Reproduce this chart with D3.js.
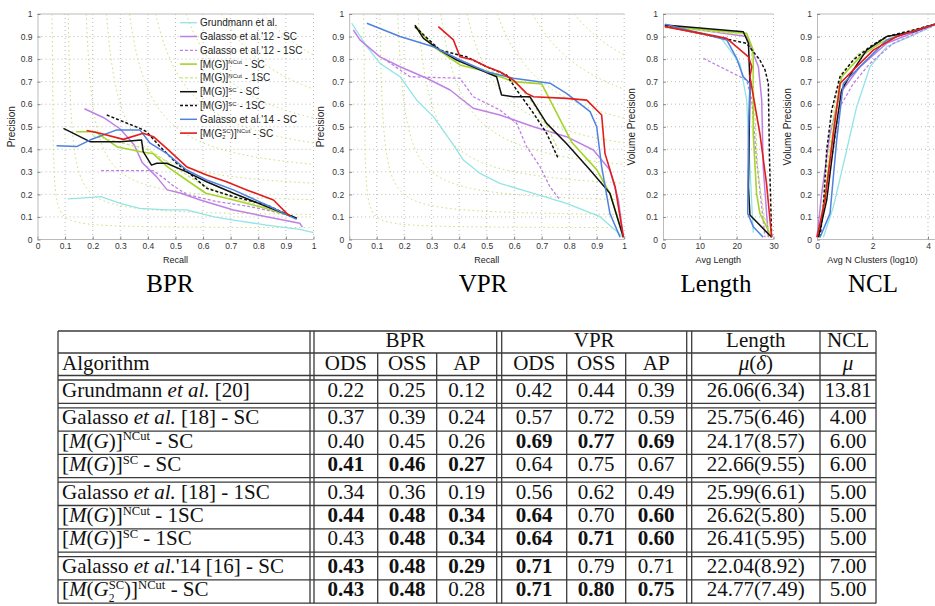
<!DOCTYPE html>
<html>
<head>
<meta charset="utf-8">
<script src="https://cdn.jsdelivr.net/npm/d3@7"></script>
<style>
body { margin: 0; background: #fff; }
text { white-space: pre; }
.tick text { font: 8.5px "Liberation Sans", Arial, sans-serif; fill: #333; }
</style>
</head>
<body>
<svg id="fig" width="935" height="606"></svg>
<script>
// ---- curve data: [x, y] per point, order as in the legend ----
var seriesLabels = [
  [["Grundmann et al."]],
  [["Galasso et al.'12 - SC"]],
  [["Galasso et al.'12 - 1SC"]],
  [["[M(G)]"], ["NCut", "sup"], [" - SC"]],
  [["[M(G)]"], ["NCut", "sup"], [" - 1SC"]],
  [["[M(G)]"], ["SC", "sup"], [" - SC"]],
  [["[M(G)]"], ["SC", "sup"], [" - 1SC"]],
  [["Galasso et al.'14 - SC"]],
  [["[M(G"], ["2", "sub"], ["SC", "supback"], [")]"], ["NCut", "sup"], [" - SC"]]
];

var bprCurves = [
  [[0.11,0.18],[0.17,0.185],[0.23,0.19],[0.30,0.16],[0.37,0.138],[0.47,0.131],[0.54,0.131],[0.64,0.10],[0.71,0.086],[0.83,0.064],[0.95,0.045],[1.0,0.03]],
  [[0.17,0.58],[0.24,0.54],[0.30,0.49],[0.35,0.42],[0.38,0.34],[0.43,0.28],[0.47,0.22],[0.52,0.205],[0.59,0.175],[0.71,0.131],[0.83,0.101],[0.95,0.072],[0.96,0.055]],
  [[0.23,0.305],[0.42,0.305],[0.46,0.27],[0.49,0.24],[0.54,0.20],[0.65,0.168],[0.77,0.146],[0.85,0.125],[0.93,0.10]],
  [[0.14,0.478],[0.21,0.478],[0.29,0.41],[0.37,0.39],[0.42,0.38],[0.47,0.323],[0.54,0.264],[0.61,0.205],[0.71,0.175],[0.83,0.138],[0.93,0.10]],
  [[0.20,0.46],[0.30,0.43],[0.40,0.40],[0.45,0.36],[0.50,0.32],[0.56,0.27],[0.62,0.23],[0.71,0.185],[0.82,0.145],[0.92,0.105]],
  [[0.094,0.493],[0.19,0.434],[0.30,0.434],[0.377,0.441],[0.383,0.39],[0.413,0.33],[0.432,0.338],[0.468,0.338],[0.54,0.30],[0.613,0.256],[0.71,0.205],[0.83,0.146],[0.94,0.094]],
  [[0.251,0.552],[0.371,0.493],[0.395,0.478],[0.444,0.412],[0.504,0.338],[0.565,0.279],[0.613,0.227],[0.71,0.19],[0.83,0.153],[0.927,0.10]],
  [[0.069,0.416],[0.142,0.412],[0.19,0.441],[0.287,0.486],[0.371,0.486],[0.408,0.427],[0.468,0.382],[0.54,0.308],[0.613,0.264],[0.71,0.22],[0.83,0.153],[0.939,0.089]],
  [[0.178,0.483],[0.226,0.471],[0.311,0.444],[0.383,0.471],[0.42,0.456],[0.468,0.404],[0.54,0.323],[0.613,0.286],[0.685,0.256],[0.758,0.22],[0.855,0.175],[0.903,0.116],[0.915,0.104]]
];

var vprCurves = [
  [[0.009,0.959],[0.064,0.855],[0.112,0.781],[0.185,0.722],[0.245,0.619],[0.306,0.545],[0.367,0.441],[0.415,0.353],[0.476,0.293],[0.548,0.249],[0.67,0.205],[0.79,0.16],[0.912,0.101],[0.997,0.01]],
  [[0.015,0.929],[0.039,0.885],[0.112,0.81],[0.185,0.766],[0.282,0.715],[0.367,0.663],[0.451,0.582],[0.548,0.552],[0.67,0.50],[0.79,0.456],[0.888,0.397],[0.948,0.308],[0.979,0.175],[0.997,0.01]],
  [[0.124,0.803],[0.221,0.722],[0.403,0.715],[0.451,0.633],[0.548,0.574],[0.609,0.515],[0.645,0.412],[0.694,0.323],[0.73,0.234],[0.767,0.175]],
  [[0.239,0.95],[0.306,0.855],[0.403,0.774],[0.5,0.744],[0.597,0.70],[0.70,0.69],[0.81,0.43],[0.9,0.31],[0.95,0.2],[0.997,0.01]],
  [[0.24,0.94],[0.30,0.86],[0.40,0.785],[0.50,0.75],[0.58,0.72],[0.62,0.68],[0.67,0.60],[0.72,0.50],[0.76,0.40]],
  [[0.239,0.951],[0.27,0.892],[0.33,0.84],[0.391,0.796],[0.476,0.752],[0.536,0.722],[0.554,0.641],[0.597,0.633],[0.657,0.633],[0.718,0.515],[0.79,0.426],[0.876,0.308],[0.948,0.205],[0.997,0.01]],
  [[0.239,0.944],[0.33,0.84],[0.427,0.81],[0.5,0.766],[0.573,0.729],[0.609,0.663],[0.67,0.56],[0.718,0.471],[0.76,0.36]],
  [[0.064,0.959],[0.185,0.9],[0.306,0.855],[0.403,0.796],[0.5,0.744],[0.597,0.715],[0.73,0.693],[0.79,0.648],[0.876,0.567],[0.9,0.5],[0.918,0.323],[0.948,0.116],[0.985,0.01]],
  [[0.324,0.944],[0.379,0.885],[0.403,0.81],[0.451,0.796],[0.5,0.766],[0.548,0.744],[0.597,0.707],[0.645,0.648],[0.67,0.633],[0.79,0.626],[0.864,0.618],[0.918,0.552],[0.93,0.382],[0.967,0.234],[0.997,0.01]]
];

var lengthCurves = [
  [[0.5,0.951],[15.5,0.9],[20.9,0.78],[22.7,0.62],[23.6,0.32],[24.5,0.03]],
  [[0.5,0.951],[22.7,0.9],[25.9,0.766],[26.8,0.619],[27.2,0.323],[28.6,0.01]],
  [[11.0,0.803],[15.5,0.766],[22.7,0.707],[24.1,0.619],[25.4,0.353],[27.7,0.01]],
  [[0.5,0.944],[22.7,0.914],[24.5,0.84],[24.5,0.47],[25.4,0.205],[26.3,0.116],[29.5,0.01]],
  [[0.5,0.94],[22.0,0.91],[24.0,0.84],[24.8,0.6],[25.8,0.3],[27.5,0.1],[29.5,0.01]],
  [[0.5,0.951],[21.8,0.921],[23.2,0.87],[23.6,0.692],[23.2,0.234],[23.6,0.109],[29.5,0.01]],
  [[0.5,0.947],[22.7,0.87],[26.3,0.796],[27.7,0.752],[28.6,0.692],[28.9,0.367],[29.5,0.01]],
  [[0.5,0.955],[17.3,0.885],[20.0,0.803],[21.8,0.722],[23.6,0.692],[23.2,0.47],[23.0,0.116],[24.5,0.057],[27.2,0.01]],
  [[0.5,0.944],[17.3,0.892],[23.2,0.81],[24.1,0.766],[23.6,0.722],[26.3,0.47],[28.1,0.249],[29.5,0.01]]
];

var nclCurves = [
  [[0.23,0.01],[0.59,0.145],[1.07,0.397],[1.43,0.589],[1.91,0.766],[2.51,0.855],[3.35,0.9],[4.25,0.951]],
  [[0,0.01],[0.17,0.205],[0.47,0.47],[0.83,0.648],[1.55,0.766],[2.51,0.87],[4.25,0.955]],
  [[0.05,0.01],[0.3,0.2],[0.59,0.397],[0.83,0.589],[1.31,0.692],[1.91,0.781],[2.75,0.87],[4.25,0.951]],
  [[0.05,0.01],[0.35,0.249],[0.65,0.545],[0.89,0.722],[1.55,0.81],[2.27,0.87],[3.11,0.914],[4.25,0.955]],
  [[0.05,0.01],[0.32,0.27],[0.6,0.56],[0.85,0.73],[1.45,0.82],[2.2,0.875],[3.1,0.915],[4.25,0.955]],
  [[0.05,0.01],[0.35,0.175],[0.65,0.47],[0.89,0.663],[1.31,0.752],[1.79,0.84],[2.51,0.9],[3.47,0.921],[4.25,0.955]],
  [[0.11,0.01],[0.23,0.145],[0.35,0.397],[0.53,0.574],[0.83,0.722],[1.31,0.796],[1.91,0.855],[2.51,0.9],[3.47,0.929],[4.25,0.955]],
  [[0.11,0.01],[0.47,0.116],[0.71,0.441],[0.95,0.692],[1.67,0.781],[2.51,0.885],[4.25,0.955]],
  [[0,0.01],[0.29,0.175],[0.59,0.47],[0.83,0.692],[1.31,0.752],[2.03,0.84],[2.87,0.9],[4.25,0.955]]
];

// iso-F reference levels drawn in the two PR plots
var isoFLevels = [0.1, 0.2, 0.3, 0.4, 0.5, 0.6, 0.7, 0.8, 0.9];

var unitTicks = [0, 0.1, 0.2, 0.3, 0.4, 0.5, 0.6, 0.7, 0.8, 0.9, 1];
var lengthTicks = [0, 10, 20, 30];
var nclTicks = [0, 2, 4];

// ---- table data ----
var algorithms = [
  [["Grundmann "], ["et al.", "i"], [" [20]"]],
  [["Galasso "], ["et al.", "i"], [" [18] - SC"]],
  [["["], ["M", "i"], ["("], ["G", "i"], [")]"], ["NCut", "sup"], [" - SC"]],
  [["["], ["M", "i"], ["("], ["G", "i"], [")]"], ["SC", "sup"], [" - SC"]],
  [["Galasso "], ["et al.", "i"], [" [18] - 1SC"]],
  [["["], ["M", "i"], ["("], ["G", "i"], [")]"], ["NCut", "sup"], [" - 1SC"]],
  [["["], ["M", "i"], ["("], ["G", "i"], [")]"], ["SC", "sup"], [" - 1SC"]],
  [["Galasso "], ["et al.", "i"], ["'14 [16] - SC"]],
  [["["], ["M", "i"], ["("], ["G", "i"], ["2", "sub"], ["SC", "supback"], [")]"], ["NCut", "sup"], [" - SC"]]
];
var rowGroups = [1, 3, 3, 2];
var topHeaders = ["BPR", "VPR", "Length", "NCL"];
var subHeaders = [[["ODS"]], [["OSS"]], [["AP"]], [["ODS"]], [["OSS"]], [["AP"]],
  [["μ", "i"], ["("], ["δ", "i"], [")"]], [["μ", "i"]]];
var bprScores = [[0.22,0.25,0.12],[0.37,0.39,0.24],[0.40,0.45,0.26],[0.41,0.46,0.27],[0.34,0.36,0.19],[0.44,0.48,0.34],[0.43,0.48,0.34],[0.43,0.48,0.29],[0.43,0.48,0.28]];
var vprScores = [[0.42,0.44,0.39],[0.57,0.72,0.59],[0.69,0.77,0.69],[0.64,0.75,0.67],[0.56,0.62,0.49],[0.64,0.70,0.60],[0.64,0.71,0.60],[0.71,0.79,0.71],[0.71,0.80,0.75]];
var lengthMean = [26.06, 25.75, 24.17, 22.66, 25.99, 26.62, 26.41, 22.04, 24.77];
var lengthStd = [6.34, 6.46, 8.57, 9.55, 6.61, 5.80, 5.95, 8.92, 7.49];
var nclMean = [13.81, 4.00, 6.00, 6.00, 5.00, 5.00, 5.00, 7.00, 5.00];
var boldScores = [
  [0,0,0,0,0,0],[0,0,0,0,0,0],[0,0,0,1,1,1],[1,1,1,0,0,0],[0,0,0,0,0,0],
  [1,1,1,1,0,1],[0,1,1,1,1,1],[1,1,1,1,0,0],[1,1,0,1,1,1]
];

// ---- styles ----
var curveStyles = [
  {color: "#93e4e6", dash: null, w: 1.3},
  {color: "#bf80e6", dash: null, w: 1.5},
  {color: "#bf80e6", dash: "3,2", w: 1.3},
  {color: "#a4d52a", dash: null, w: 1.6},
  {color: "#c9e57c", dash: "3,2", w: 1.3},
  {color: "#111", dash: null, w: 1.5},
  {color: "#111", dash: "3,2", w: 1.5},
  {color: "#4f82e0", dash: null, w: 1.5},
  {color: "#e31c1c", dash: null, w: 1.6}
];

var svg = d3.select("#fig");
var yTop = 14, yBottom = 239.5;
var y = d3.scaleLinear().domain([0, 1]).range([yBottom, yTop]);
var fmtUnit = function(d) { return d === 0 ? "0" : d === 1 ? "1" : d3.format(".1f")(d); };

// rich text: segments of [text, kind]
function rich(textSel, segs, size) {
  var shift = 0, prev = null;
  segs.forEach(function(s) {
    var kind = s[1] || "", target = 0, fs = size;
    if (kind === "sup" || kind === "supback") { target = -size * 0.35; fs = size * 0.6; }
    if (kind === "sub") { target = size * 0.28; fs = size * 0.55; }
    var ts = textSel.append("tspan").attr("dy", target - shift).style("font-size", fs + "px").text(s[0]);
    if (kind === "i") ts.style("font-style", "italic");
    if (kind === "supback" && prev) ts.attr("dx", -prev.getComputedTextLength());
    shift = target; prev = ts.node();
  });
}

var panels = [
  {curves: bprCurves, domain: [0, 1], range: [37.5, 313.5], ticks: unitTicks, fmt: fmtUnit, xlabel: "Recall", ylabel: "Precision", ylx: 12, iso: true, caption: "BPR", capX: 170, legend: true, xEnd: 1},
  {curves: vprCurves, domain: [0, 1], range: [349.2, 624.2], ticks: unitTicks, fmt: fmtUnit, xlabel: "Recall", ylabel: "Precision", ylx: 321, iso: true, caption: "VPR", capX: 483, xEnd: 1},
  {curves: lengthCurves, domain: [0, 30], range: [663, 773.5], ticks: lengthTicks, fmt: d3.format("d"), xlabel: "Avg Length", ylabel: "Volume Precision", ylx: 632, caption: "Length", capX: 716, xEnd: 30},
  {curves: nclCurves, domain: [0, 4], range: [817, 928], ticks: nclTicks, fmt: d3.format("d"), xlabel: "Avg N Clusters (log10)", ylabel: "Volume Precision", ylx: 788, caption: "NCL", capX: 873, xEnd: 4.3}
];

panels.forEach(function(p) {
  var x = d3.scaleLinear().domain(p.domain).range(p.range);
  var g = svg.append("g");
  var xr = x(p.xEnd);

  // grid
  g.selectAll(".gx").data(p.ticks.slice(1)).join("line")
    .attr("x1", function(d) { return x(d); }).attr("x2", function(d) { return x(d); })
    .attr("y1", yTop).attr("y2", yBottom)
    .attr("stroke", "#555").attr("stroke-opacity", 0.4).attr("stroke-dasharray", "1,3");
  g.selectAll(".gy").data(unitTicks.slice(1, -1)).join("line")
    .attr("x1", x(0)).attr("x2", xr)
    .attr("y1", function(d) { return y(d); }).attr("y2", function(d) { return y(d); })
    .attr("stroke", "#555").attr("stroke-opacity", 0.4).attr("stroke-dasharray", "1,3");
  g.append("line").attr("x1", x(0)).attr("x2", xr).attr("y1", yTop).attr("y2", yTop)
    .attr("stroke", "#bbb").attr("stroke-width", 1.2);

  // iso-F contours
  if (p.iso) {
    isoFLevels.forEach(function(f) {
      var r0 = f / (2 - f);
      var pts = d3.range(r0, 1.0001, 0.005).map(function(r) { return [r, f * r / (2 * r - f)]; });
      g.append("path").datum(pts)
        .attr("d", d3.line().x(function(d) { return x(d[0]); }).y(function(d) { return y(d[1]); }))
        .attr("fill", "none").attr("stroke", "#c4df74").attr("stroke-width", 1)
        .attr("stroke-dasharray", "1.5,3");
    });
  }

  // axes
  var ax = g.append("g").attr("transform", "translate(0," + yBottom + ")")
    .call(d3.axisBottom(x).tickValues(p.ticks).tickFormat(p.fmt).tickSize(-3).tickSizeOuter(0).tickPadding(3.5));
  var ay = g.append("g").attr("transform", "translate(" + x(0) + ",0)")
    .call(d3.axisLeft(y).tickValues(unitTicks).tickFormat(fmtUnit).tickSize(-3).tickSizeOuter(0).tickPadding(5));
  [ax, ay].forEach(function(a) {
    a.select(".domain").attr("stroke", "#bbb");
    a.selectAll(".tick line").attr("stroke", "#888");
  });
  ax.select(".domain").attr("d", "M" + x(0) + ",0H" + xr);

  g.append("text").attr("x", (x(0) + x(p.domain[1])) / 2).attr("y", 262.5)
    .attr("text-anchor", "middle").style("font", "9px 'Liberation Sans', Arial, sans-serif").attr("fill", "#222")
    .text(p.xlabel);
  g.append("text").attr("transform", "translate(" + (p.ylx + 3) + "," + ((yTop + yBottom) / 2) + ") rotate(-90)")
    .attr("text-anchor", "middle").style("font", "10px 'Liberation Sans', Arial, sans-serif").attr("fill", "#222")
    .text(p.ylabel);

  // curves
  var line = d3.line().x(function(d) { return x(d[0]); }).y(function(d) { return y(d[1]); });
  p.curves.forEach(function(c, i) {
    var st = curveStyles[i];
    g.append("path").datum(c).attr("d", line)
      .attr("fill", "none").attr("stroke", st.color).attr("stroke-width", st.w)
      .attr("stroke-dasharray", st.dash).attr("stroke-linejoin", "round");
  });

  // legend
  if (p.legend) {
    var lg = g.append("g");
    seriesLabels.forEach(function(lab, i) {
      var ly = 22.7 + i * 13.8, st = curveStyles[i];
      lg.append("line").attr("x1", 180).attr("x2", 197).attr("y1", ly).attr("y2", ly)
        .attr("stroke", st.color).attr("stroke-width", st.w).attr("stroke-dasharray", st.dash);
      var t = lg.append("text").attr("x", 200).attr("y", ly + 3.5)
        .style("font-family", "'Liberation Sans', Arial, sans-serif").attr("fill", "#222");
      rich(t, lab, 10);
    });
  }

  svg.append("text").attr("x", p.capX).attr("y", 291.5).attr("text-anchor", "middle")
    .style("font", "25px 'Liberation Serif', 'Times New Roman', serif").text(p.caption);
});

// ---- table ----
var tg = svg.append("g");
var cells = [[58, 310], [314, 377.7], [377.7, 436.7], [436.7, 496.7], [501.7, 566.7], [566.7, 625.7], [625.7, 686.7], [691.7, 820], [820, 876]];
var tableLeft = 58, tableRight = 876, tableTop = 331, h1 = 353, h2 = 375.5, gap = 4.5, rowH = 23.3;
var fontT = "'Liberation Serif', 'Times New Roman', serif", sizeT = 21;

// row boundaries
var rowTops = [], hLines = [tableTop, h1, h2], yy = h2;
rowGroups.forEach(function(n) {
  yy += gap; hLines.push(yy);
  for (var k = 0; k < n; k++) { rowTops.push(yy); yy += rowH; hLines.push(yy); }
});
var tableBottom = yy;

hLines.forEach(function(v) {
  tg.append("line").attr("x1", tableLeft).attr("x2", tableRight).attr("y1", v).attr("y2", v)
    .attr("stroke", "#3a3a3a").attr("stroke-width", 1.3);
});
[58, 310, 314, 496.7, 501.7, 686.7, 691.7, 820, 876].forEach(function(v) {
  tg.append("line").attr("x1", v).attr("x2", v).attr("y1", tableTop).attr("y2", tableBottom)
    .attr("stroke", "#3a3a3a").attr("stroke-width", 1.3);
});
[377.7, 436.7, 566.7, 625.7].forEach(function(v) {
  tg.append("line").attr("x1", v).attr("x2", v).attr("y1", h1).attr("y2", tableBottom)
    .attr("stroke", "#3a3a3a").attr("stroke-width", 1.3);
});

function cellText(cx, baseY, anchor, segs, bold) {
  var t = tg.append("text").attr("x", cx).attr("y", baseY).attr("text-anchor", anchor)
    .style("font-family", fontT).style("font-weight", bold ? "bold" : "normal").attr("fill", "#111");
  rich(t, segs, sizeT);
}
var mid = function(c) { return (c[0] + c[1]) / 2; };

// headers
var spans = [[cells[1][0], cells[3][1]], [cells[4][0], cells[6][1]], cells[7], cells[8]];
topHeaders.forEach(function(hd, i) { cellText(mid(spans[i]), tableTop + 15.7, "middle", [[hd]]); });
cellText(cells[0][0] + 4, h1 + 16.5, "start", [["Algorithm"]]);
subHeaders.forEach(function(hd, i) { cellText(mid(cells[i + 1]), h1 + 16.5, "middle", hd); });

var f2 = d3.format(".2f");
algorithms.forEach(function(lab, r) {
  var by = rowTops[r] + 16.5;
  cellText(cells[0][0] + 4, by, "start", lab);
  var vals = bprScores[r].concat(vprScores[r]);
  vals.forEach(function(v, j) { cellText(mid(cells[j + 1]), by, "middle", [[f2(v)]], boldScores[r][j]); });
  cellText(mid(cells[7]), by, "middle", [[f2(lengthMean[r]) + "(" + f2(lengthStd[r]) + ")"]]);
  cellText(mid(cells[8]), by, "middle", [[f2(nclMean[r])]]);
});
</script>
</body>
</html>
